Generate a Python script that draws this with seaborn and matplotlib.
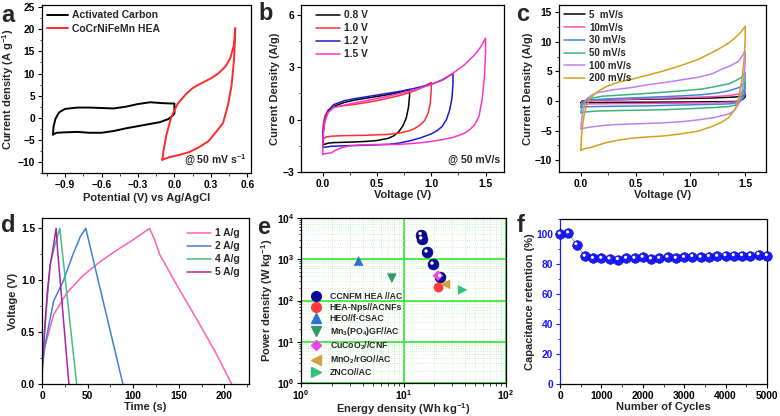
import numpy as np
import pandas as pd
import seaborn as sns
import matplotlib.pyplot as plt
from matplotlib.ticker import AutoMinorLocator, LogLocator, FuncFormatter, NullFormatter
from matplotlib.transforms import offset_copy
from matplotlib.lines import Line2D

# ---------------- data ----------------
# (a) CV of the two electrodes @ 50 mV/s
ac_v = [-1.0, -0.995, -0.98, -0.95, -0.9, -0.8, -0.7, -0.6, -0.5, -0.4, -0.3, -0.2, -0.1, 0.0, 0.0,
        -0.014, -0.05, -0.12, -0.2, -0.3, -0.4, -0.5, -0.6, -0.7, -0.8, -0.9, -0.97, -1.0]
ac_j = [-3.8, -2.0, -0.3, 1.2, 2.0, 2.3, 2.3, 2.2, 2.1, 2.5, 3.1, 3.5, 3.3, 3.2, 1.0,
        0.5, -0.3, -1.0, -1.4, -1.9, -2.4, -3.0, -3.4, -3.4, -3.2, -3.3, -3.4, -3.8]
hea_v = [-0.1, -0.09, -0.068, -0.027, 0.027, 0.1, 0.15, 0.2, 0.3, 0.36, 0.42, 0.46, 0.49, 0.5,
         0.5, 0.49, 0.47, 0.44, 0.4, 0.34, 0.28, 0.2, 0.12, 0.04, -0.04, -0.1]
hea_j = [-9.5, -7.5, -4.1, 0.1, 3.2, 5.5, 6.7, 7.5, 8.9, 10.0, 11.6, 13.5, 16.5, 20.3,
         19.0, 13.0, 7.3, 2.8, -1.2, -3.3, -5.3, -6.7, -7.8, -8.4, -8.9, -9.5]

# (b) CV at different voltage windows @ 50 mV/s
w08_v = [0.0, 0.005, 0.02, 0.05, 0.1, 0.2, 0.3, 0.4, 0.5, 0.6, 0.7, 0.8, 0.8, 0.79, 0.77, 0.74,
         0.7, 0.65, 0.6, 0.5, 0.4, 0.3, 0.2, 0.1, 0.05, 0.0]
w08_j = [-1.45, -0.6, 0.0, 0.45, 0.75, 0.98, 1.12, 1.22, 1.32, 1.42, 1.55, 1.72, 1.35, 0.7, 0.1, -0.35,
         -0.7, -0.95, -1.08, -1.2, -1.25, -1.28, -1.3, -1.32, -1.35, -1.45]
w10_v = [0.0, 0.005, 0.02, 0.05, 0.1, 0.2, 0.3, 0.4, 0.5, 0.6, 0.7, 0.8, 0.9, 1.0, 1.0, 0.99, 0.97,
         0.94, 0.9, 0.85, 0.8, 0.7, 0.6, 0.4, 0.2, 0.08, 0.03, 0.0]
w10_j = [-1.15, -0.3, 0.2, 0.55, 0.72, 0.8, 0.87, 0.97, 1.08, 1.22, 1.36, 1.54, 1.78, 2.12, 1.7, 0.9, 0.35,
         -0.05, -0.3, -0.5, -0.64, -0.78, -0.85, -0.9, -0.92, -0.95, -1.0, -1.15]
w12_v = [0.0, 0.005, 0.02, 0.05, 0.1, 0.2, 0.3, 0.4, 0.5, 0.6, 0.7, 0.8, 0.9, 1.0, 1.1, 1.2, 1.2, 1.19,
         1.17, 1.14, 1.1, 1.05, 1.0, 0.9, 0.8, 0.7, 0.6, 0.4, 0.2, 0.08, 0.0]
w12_j = [-1.6, -0.7, 0.0, 0.5, 0.85, 1.08, 1.2, 1.3, 1.4, 1.5, 1.6, 1.72, 1.86, 2.02, 2.25, 2.63, 2.0, 1.2,
         0.55, 0.0, -0.4, -0.65, -0.82, -1.05, -1.22, -1.35, -1.42, -1.47, -1.5, -1.53, -1.6]
w15_v = [0.0, 0.003, 0.02, 0.05, 0.1, 0.2, 0.3, 0.4, 0.5, 0.6, 0.7, 0.8, 0.9, 1.0, 1.1, 1.2, 1.3, 1.4,
         1.45, 1.5, 1.5, 1.49, 1.47, 1.44, 1.4, 1.35, 1.3, 1.2, 1.1, 1.0, 0.9, 0.8, 0.7, 0.5, 0.35,
         0.25, 0.18, 0.12, 0.08, 0.03, 0.0]
w15_j = [-2.0, -1.0, -0.1, 0.4, 0.68, 0.83, 0.95, 1.08, 1.2, 1.33, 1.47, 1.62, 1.8, 2.0, 2.28, 2.65, 3.1, 3.7,
         4.1, 4.65, 3.8, 2.5, 1.2, 0.2, -0.3, -0.6, -0.8, -1.02, -1.15, -1.25, -1.33, -1.38, -1.42, -1.43, -1.45,
         -1.5, -1.6, -1.75, -1.9, -1.95, -2.0]

# (c) CV at different scan rates
s5_v = [0.0, 0.01, 0.05, 0.3, 0.6, 0.9, 1.2, 1.4, 1.47, 1.5, 1.5, 1.48, 1.45, 1.4, 1.0, 0.5, 0.05, 0.0]
s5_j = [-0.3, -0.05, 0.1, 0.2, 0.3, 0.4, 0.5, 0.65, 0.8, 1.1, 0.7, 0.3, 0.0, -0.1, -0.18, -0.22, -0.27, -0.3]
s10_v = [0.0, 0.01, 0.04, 0.3, 0.6, 0.9, 1.2, 1.35, 1.45, 1.5, 1.5, 1.48, 1.45, 1.4, 1.2, 0.9, 0.6, 0.3, 0.05, 0.0]
s10_j = [-0.55, -0.2, 0.0, 0.2, 0.4, 0.55, 0.72, 0.9, 1.2, 1.85, 1.2, 0.5, 0.0, -0.2, -0.3, -0.38, -0.42, -0.45,
         -0.5, -0.55]
s30_v = [0.0, 0.005, 0.03, 0.1, 0.3, 0.6, 0.9, 1.1, 1.25, 1.35, 1.45, 1.5, 1.5, 1.49, 1.47, 1.44, 1.35, 1.22,
         0.9, 0.6, 0.3, 0.15, 0.03, 0.0]
s30_j = [-1.1, -0.6, 0.0, 0.2, 0.4, 0.6, 0.84, 1.05, 1.35, 1.7, 2.3, 3.2, 2.2, 1.0, 0.2, -0.3, -0.5, -0.56,
         -0.7, -0.84, -0.9, -0.95, -1.0, -1.1]
s50_v = [0.0, 0.005, 0.02, 0.05, 0.09, 0.2, 0.46, 0.7, 0.92, 1.1, 1.22, 1.35, 1.41, 1.47, 1.5, 1.5, 1.49,
         1.47, 1.44, 1.41, 1.35, 1.22, 1.0, 0.8, 0.6, 0.4, 0.15, 0.05, 0.0]
s50_j = [-2.0, -1.2, -0.4, 0.2, 0.45, 0.8, 1.1, 1.4, 1.7, 2.0, 2.4, 2.9, 3.4, 4.0, 4.8, 3.5, 2.0,
         0.7, -0.2, -0.7, -0.95, -1.1, -1.3, -1.45, -1.55, -1.6, -1.7, -1.85, -2.0]
s100_v = [0.0, 0.005, 0.015, 0.03, 0.05, 0.1, 0.15, 0.3, 0.46, 0.6, 0.76, 0.9, 1.07, 1.2, 1.28, 1.36, 1.44,
          1.5, 1.5, 1.49, 1.47, 1.44, 1.4, 1.35, 1.22, 1.07, 0.92, 0.75, 0.61, 0.45, 0.31, 0.2, 0.09, 0.03, 0.0]
s100_j = [-4.7, -3.5, -2.0, -0.8, 0.3, 1.0, 1.4, 1.9, 2.25, 2.7, 3.1, 3.5, 4.0, 4.6, 5.3, 5.9, 6.7,
          8.4, 6.5, 4.0, 1.5, -0.5, -1.6, -2.2, -2.8, -3.2, -3.5, -3.7, -3.8, -3.9, -4.0, -4.15, -4.4, -4.6, -4.7]
s200_v = [0.0, 0.005, 0.015, 0.03, 0.05, 0.08, 0.12, 0.18, 0.24, 0.35, 0.46, 0.6, 0.76, 0.9, 1.07, 1.2, 1.28,
          1.35, 1.41, 1.46, 1.5, 1.5, 1.49, 1.47, 1.44, 1.41, 1.35, 1.28, 1.2, 1.07, 0.9, 0.76, 0.6, 0.46,
          0.35, 0.24, 0.15, 0.08, 0.03, 0.0]
s200_j = [-8.3, -6.0, -4.2, -2.3, -0.8, 0.3, 1.1, 1.9, 2.5, 3.2, 3.65, 4.3, 5.1, 5.9, 7.0, 8.2, 9.0,
          9.8, 10.7, 11.6, 12.6, 10.5, 7.0, 3.5, 0.5, -1.4, -2.8, -3.65, -4.3, -5.1, -5.6, -5.9, -6.1, -6.3,
          -6.6, -7.0, -7.5, -7.9, -8.1, -8.3]

# (d) GCD curves
g1_t = [0, 2, 5, 12.8, 27.4, 45.6, 63.9, 82, 100, 118, 124, 129, 150, 170, 190, 208]
g1_v = [0.22, 0.33, 0.42, 0.67, 0.88, 1.05, 1.18, 1.29, 1.39, 1.5, 1.38, 1.25, 0.92, 0.62, 0.31, 0.0]
g2_t = [0, 3, 6, 12.8, 23.7, 34, 42, 48, 88.7]
g2_v = [0.14, 0.35, 0.5, 0.8, 1.0, 1.25, 1.42, 1.5, 0.0]
g4_t = [0, 3, 6, 9, 13, 19.5, 38]
g4_v = [0.05, 0.5, 0.85, 1.15, 1.3, 1.5, 0.0]
g5_t = [0, 1, 3, 6, 9, 12, 15.5, 17, 29.5]
g5_v = [0.15, 0.25, 0.55, 0.9, 1.15, 1.3, 1.5, 1.3, 0.0]

# (e) Ragone plot
ccnfm_e = [14.8, 15.0, 16.9, 19.3, 22.9]
ccnfm_p = [3940, 3090, 1490, 760, 380]
ref_names = ['HEA-Nps//ACNFs', 'HEO//f-CSAC', 'Mn$_3$(PO$_4$)GF//AC', 'CuCoO$_2$//CNF',
             'MnO$_2$/rGO//AC', 'ZNCO//AC']
ref_e = [22.0, 3.65, 7.7, 21.7, 25.6, 37.8]
ref_p = [206, 910, 346, 400, 247, 180]
ref_marker = ['o', '^', 'v', 'D', '<', '>']
ref_color = ['#ff3b3b', '#2f6fd6', '#2e9a6a', '#ee44ee', '#d4a040', '#33c27a']

# (f) cycling stability
cycles = list(range(0, 5001, 200))
retention = [100.0, 100.7, 92.9, 85.2, 83.8, 83.8, 83.4, 83.0, 83.8, 83.8, 84.5, 83.4, 83.8,
             84.5, 83.8, 84.5, 85.0, 84.5, 85.0, 85.2, 85.6, 85.6, 85.6, 85.6, 86.3, 85.6]

# ---------------- style ----------------
sns.set_theme(style="ticks")
plt.rcParams['font.family'] = ['Liberation Sans', 'DejaVu Sans']
plt.rcParams['font.weight'] = 'bold'
plt.rcParams['axes.labelweight'] = 'bold'
plt.rcParams['mathtext.fontset'] = 'custom'
plt.rcParams['mathtext.rm'] = 'Liberation Sans:bold'
plt.rcParams['mathtext.bf'] = 'Liberation Sans:bold'
plt.rcParams['mathtext.default'] = 'bf'
plt.rcParams['axes.linewidth'] = 0.9
plt.rcParams['xtick.direction'] = 'out'
plt.rcParams['ytick.direction'] = 'out'

W, H = 780, 416
fig = plt.figure(figsize=(W / 100, H / 100), dpi=100)


def make_ax(l, r, t, b):
    return fig.add_axes([l / W, 1 - b / H, (r - l) / W, (b - t) / H])


def style(ax, minor=True):
    ax.tick_params(labelsize=7.4, length=3, width=0.8, pad=2, colors='black')
    ax.tick_params(which='minor', length=1.8, width=0.6)
    if minor:
        ax.xaxis.set_minor_locator(AutoMinorLocator(2))
        ax.yaxis.set_minor_locator(AutoMinorLocator(2))
    for s in ax.spines.values():
        s.set_visible(True)
        s.set_color('black')
    for lab in ax.get_xticklabels() + ax.get_yticklabels():
        lab.set_fontweight('bold')


def line(ax, x, y, c, label=None, lw=1.1):
    sns.lineplot(x=x, y=y, sort=False, estimator=None, color=c, lw=lw, label=label, ax=ax)


lab_fs = 8
leg_kw = dict(frameon=False, borderaxespad=0.3, handletextpad=0.4, borderpad=0.2)

# ---------------- (a) ----------------
ax = make_ax(42, 251, 5, 173)
line(ax, ac_v, ac_j, 'black', 'Activated Carbon', lw=1.4)
line(ax, hea_v, hea_j, '#ff2a2a', 'CoCrNiFeMn HEA', lw=1.4)
ax.set_xlim(-1.09, 0.63)
ax.set_ylim(-12.5, 25.5)
ax.set_xticks([-0.9, -0.6, -0.3, 0.0, 0.3, 0.6])
ax.set_yticks(range(-10, 26, 5))
style(ax)
ax.set_xlabel('Potential (V) vs Ag/AgCl', fontsize=lab_fs, labelpad=2)
ax.set_ylabel('Current density (A g$^{-1}$)', fontsize=lab_fs, labelpad=1)
ax.legend(loc='upper left', fontsize=7.5, handlelength=2.0, labelspacing=0.35, **leg_kw)
ax.text(0.98, 0.03, '@ 50 mV s$^{-1}$', transform=ax.transAxes, ha='right', va='bottom',
        fontsize=7.5, fontweight='bold')

# ---------------- (b) ----------------
ax = make_ax(301, 504, 5, 172)
line(ax, w08_v, w08_j, 'black', '0.8 V')
line(ax, w10_v, w10_j, '#ff2e2e', '1.0 V')
line(ax, w12_v, w12_j, '#1c1ccc', '1.2 V')
line(ax, w15_v, w15_j, '#ff33cc', '1.5 V')
ax.set_xlim(-0.2, 1.67)
ax.set_ylim(-3, 6.55)
ax.set_xticks([0.0, 0.5, 1.0, 1.5])
ax.set_yticks([-3, 0, 3, 6])
style(ax)
ax.set_xlabel('Voltage (V)', fontsize=lab_fs, labelpad=1)
ax.set_ylabel('Current Density (A/g)', fontsize=lab_fs, labelpad=2)
ax.legend(loc='upper left', fontsize=7.4, handlelength=2.3, labelspacing=0.3,
          bbox_to_anchor=(0.05, 1.0), **leg_kw)
ax.text(0.98, 0.04, '@ 50 mV/s', transform=ax.transAxes, ha='right', va='bottom',
        fontsize=7.5, fontweight='bold')

# ---------------- (c) ----------------
ax = make_ax(559, 766, 5, 172)
line(ax, s5_v, s5_j, 'black', '5  mV/s')
line(ax, s10_v, s10_j, '#ff4fb0', '10mV/s')
line(ax, s30_v, s30_j, '#3d85e0', '30 mV/s')
line(ax, s50_v, s50_j, '#3cb37a', '50 mV/s')
line(ax, s100_v, s100_j, '#c080f5', '100 mV/s')
line(ax, s200_v, s200_j, '#d4a020', '200 mV/s')
ax.set_xlim(-0.2, 1.69)
ax.set_ylim(-12, 16.2)
ax.set_xticks([0.0, 0.5, 1.0, 1.5])
ax.set_yticks([-10, -5, 0, 5, 10, 15])
style(ax)
ax.set_xlabel('Voltage (V)', fontsize=lab_fs, labelpad=1)
ax.set_ylabel('Current Density (A/g)', fontsize=lab_fs, labelpad=1)
ax.legend(loc='upper left', fontsize=7.0, handlelength=2.2, labelspacing=0.28, **leg_kw)

# ---------------- (d) ----------------
ax = make_ax(42, 249, 218, 384)
line(ax, g1_t, g1_v, '#ff5fb5', '1 A/g')
line(ax, g2_t, g2_v, '#3d80e0', '2 A/g')
line(ax, g4_t, g4_v, '#40c080', '4 A/g')
line(ax, g5_t, g5_v, '#b020b0', '5 A/g')
ax.set_xlim(0, 227)
ax.set_ylim(0, 1.6)
ax.set_xticks([0, 50, 100, 150, 200])
ax.set_yticks([0.0, 0.5, 1.0, 1.5])
style(ax)
ax.set_xlabel('Time (s)', fontsize=lab_fs, labelpad=1)
ax.set_ylabel('Voltage (V)', fontsize=lab_fs, labelpad=2)
ax.legend(loc='upper right', fontsize=7.4, handlelength=2.3, labelspacing=0.3,
          bbox_to_anchor=(0.98, 0.97), **leg_kw)

# ---------------- (e) ----------------
ax = make_ax(301, 506, 218, 383)
ax.set_xscale('log')
ax.set_yscale('log')
ax.set_xlim(1, 100)
ax.set_ylim(1, 1e4)
ax.xaxis.set_major_locator(LogLocator(base=10))
ax.yaxis.set_major_locator(LogLocator(base=10))
ax.xaxis.set_minor_locator(LogLocator(base=10, subs=np.arange(2, 10)))
ax.yaxis.set_minor_locator(LogLocator(base=10, subs=np.arange(2, 10)))
ax.xaxis.set_minor_formatter(NullFormatter())
ax.yaxis.set_minor_formatter(NullFormatter())
fmt = FuncFormatter(lambda v, p: r'$10^{%d}$' % round(np.log10(v)))
ax.xaxis.set_major_formatter(fmt)
ax.yaxis.set_major_formatter(fmt)
ax.grid(True, which='minor', color='#b8f0b8', lw=0.6, ls=':')
ax.grid(True, which='major', color='#2ee62e', lw=1.2, ls='-')
ax.set_axisbelow(True)
sph = offset_copy(ax.transData, fig=fig, x=-0.6, y=0.8, units='points')
sns.scatterplot(x=ccnfm_e, y=ccnfm_p, ax=ax, color='#0a0a9a', s=60, edgecolor='#000060',
                linewidth=0.5, zorder=5)
sns.scatterplot(x=ccnfm_e, y=ccnfm_p, ax=ax, color='white', s=6, edgecolor='none',
                zorder=6, transform=sph)
for e, p, m, c in zip(ref_e, ref_p, ref_marker, ref_color):
    sns.scatterplot(x=[e], y=[p], ax=ax, marker=m, color=c, s=50 if m != 'D' else 30,
                    edgecolor='none', zorder=5)
style(ax, minor=False)
ax.tick_params(axis='x', pad=1)
ax.set_xlabel('Energy density (Wh kg$^{-1}$)', fontsize=lab_fs, labelpad=-1)
ax.set_ylabel('Power density (W kg$^{-1}$)', fontsize=lab_fs, labelpad=1)
handles = [Line2D([], [], ls='', marker='o', color='#0a0a9a', markersize=7)]
handles += [Line2D([], [], ls='', marker=m, color=c, markersize=7 if m != 'D' else 5.5)
            for m, c in zip(ref_marker, ref_color)]
ax.legend(handles, ['CCNFM HEA //AC'] + ref_names, loc='lower left', fontsize=6.3,
          labelspacing=0.2, handletextpad=0.6, frameon=False, borderaxespad=0.3,
          bbox_to_anchor=(0.0, 0.0))

# ---------------- (f) ----------------
ax = make_ax(560, 767, 219, 384)
blue = '#1a1aff'
sns.lineplot(x=cycles, y=retention, ax=ax, color='#8888aa', lw=0.6, sort=False, estimator=None, zorder=3)
sph = offset_copy(ax.transData, fig=fig, x=-0.5, y=0.7, units='points')
sns.scatterplot(x=cycles, y=retention, ax=ax, color=blue, s=48, edgecolor='#0000b0',
                linewidth=0.4, zorder=5, clip_on=False)
sns.scatterplot(x=cycles, y=retention, ax=ax, color='white', s=5, edgecolor='none',
                zorder=6, transform=sph, clip_on=False)
ax.set_xlim(0, 5000)
ax.set_ylim(0, 110)
ax.set_xticks(range(0, 5001, 1000))
ax.set_yticks(range(0, 101, 20))
style(ax)
ax.spines['left'].set_color(blue)
ax.tick_params(axis='y', which='both', colors=blue)
for lab in ax.get_yticklabels():
    lab.set_color(blue)
ax.set_xlabel('Number of Cycles', fontsize=lab_fs, labelpad=1)
ax.set_ylabel('Capacitance retention (%)', fontsize=lab_fs, labelpad=1)

# ---------------- panel letters ----------------
for x, y, s in [(1, 22, 'a'), (258, 20, 'b'), (516, 21, 'c'),
                (1, 232, 'd'), (257, 234, 'e'), (517, 232, 'f')]:
    fig.text(x / W, 1 - y / H, s, fontsize=17, fontweight='bold', va='baseline', ha='left')

fig.savefig('out.png', dpi=100)
